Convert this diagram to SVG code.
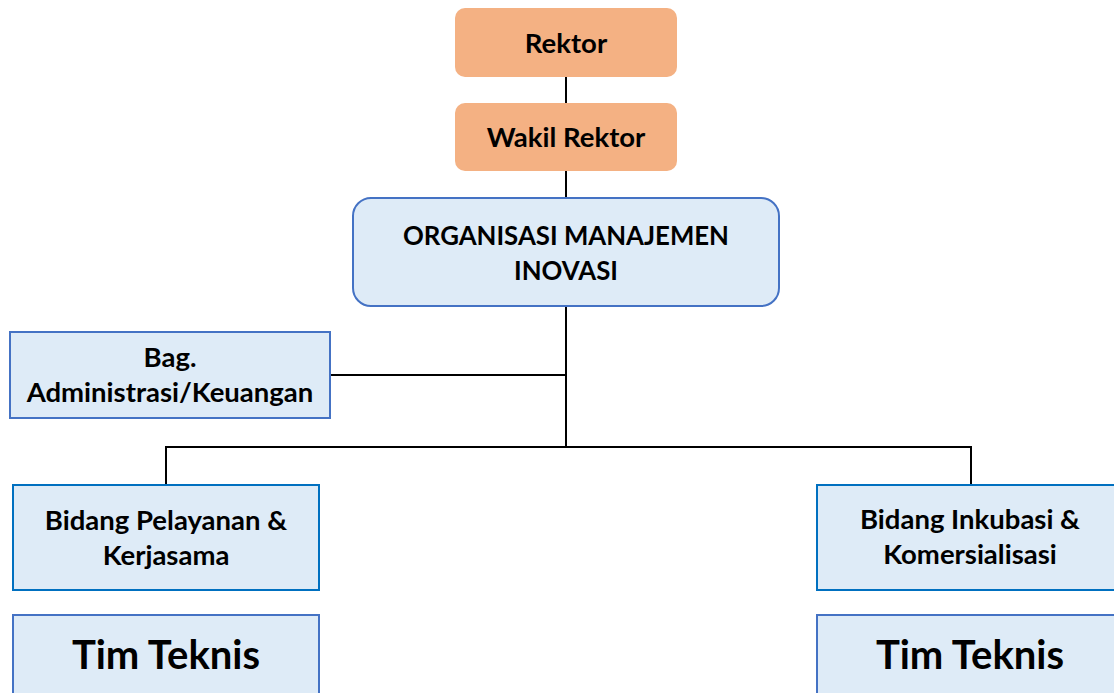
<svg xmlns="http://www.w3.org/2000/svg" width="1114" height="693" viewBox="0 0 1114 693">
  <style>
    text { font-family: Lato, "Noto Sans", "Liberation Sans", sans-serif; font-weight: bold; fill: #000; text-anchor: middle; }
    .lead { fill: #F4B183; }
    .unit { fill: #DEEBF7; stroke: #4472C4; stroke-width: 2; }
    .dept { fill: #DEEBF7; stroke: #0070C0; stroke-width: 2; }
    .team { fill: #DEEBF7; stroke: #4472C4; stroke-width: 2; }
    .link { fill: none; stroke: #000; stroke-width: 2; }
    .t28 { font-size: 27.5px; }
    .t26 { font-size: 25.8px; }
    .t40 { font-size: 40px; }
  </style>

  <!-- connectors -->
  <g id="connectors">
    <line class="link" x1="566" y1="77" x2="566" y2="103"/>
    <line class="link" x1="566" y1="171" x2="566" y2="198"/>
    <line class="link" x1="566" y1="306" x2="566" y2="447"/>
    <line class="link" x1="330" y1="375" x2="566" y2="375"/>
    <polyline class="link" points="166,484 166,447 971,447 971,484"/>
  </g>

  <g id="rektor">
    <rect class="lead" x="455" y="8" width="222" height="69" rx="10"/>
    <text class="t28" x="566" y="53">Rektor</text>
  </g>

  <g id="wakil-rektor">
    <rect class="lead" x="455" y="103" width="222" height="68" rx="10"/>
    <text class="t28" x="566" y="147">Wakil Rektor</text>
  </g>

  <g id="organisasi">
    <rect class="unit" x="353" y="198" width="426" height="108" rx="18"/>
    <text class="t26" x="566" y="245">ORGANISASI MANAJEMEN</text>
    <text class="t26" x="566" y="280">INOVASI</text>
  </g>

  <g id="administrasi">
    <rect class="unit" x="10" y="332" width="320" height="86"/>
    <text class="t28" x="170" y="367">Bag.</text>
    <text class="t28" x="170" y="402">Administrasi/Keuangan</text>
  </g>

  <g id="bidang-pelayanan">
    <rect class="dept" x="13" y="485" width="306" height="105"/>
    <text class="t28" x="166" y="530">Bidang Pelayanan &amp;</text>
    <text class="t28" x="166" y="565">Kerjasama</text>
  </g>

  <g id="tim-teknis-kiri">
    <rect class="team" x="13" y="615" width="306" height="100"/>
    <text class="t40" x="166" y="669">Tim Teknis</text>
  </g>

  <g id="bidang-inkubasi">
    <rect class="dept" x="817" y="485" width="310" height="105"/>
    <text class="t28" x="970" y="529">Bidang Inkubasi &amp;</text>
    <text class="t28" x="970" y="564">Komersialisasi</text>
  </g>

  <g id="tim-teknis-kanan">
    <rect class="team" x="817" y="615" width="310" height="100"/>
    <text class="t40" x="970" y="669">Tim Teknis</text>
  </g>
</svg>
